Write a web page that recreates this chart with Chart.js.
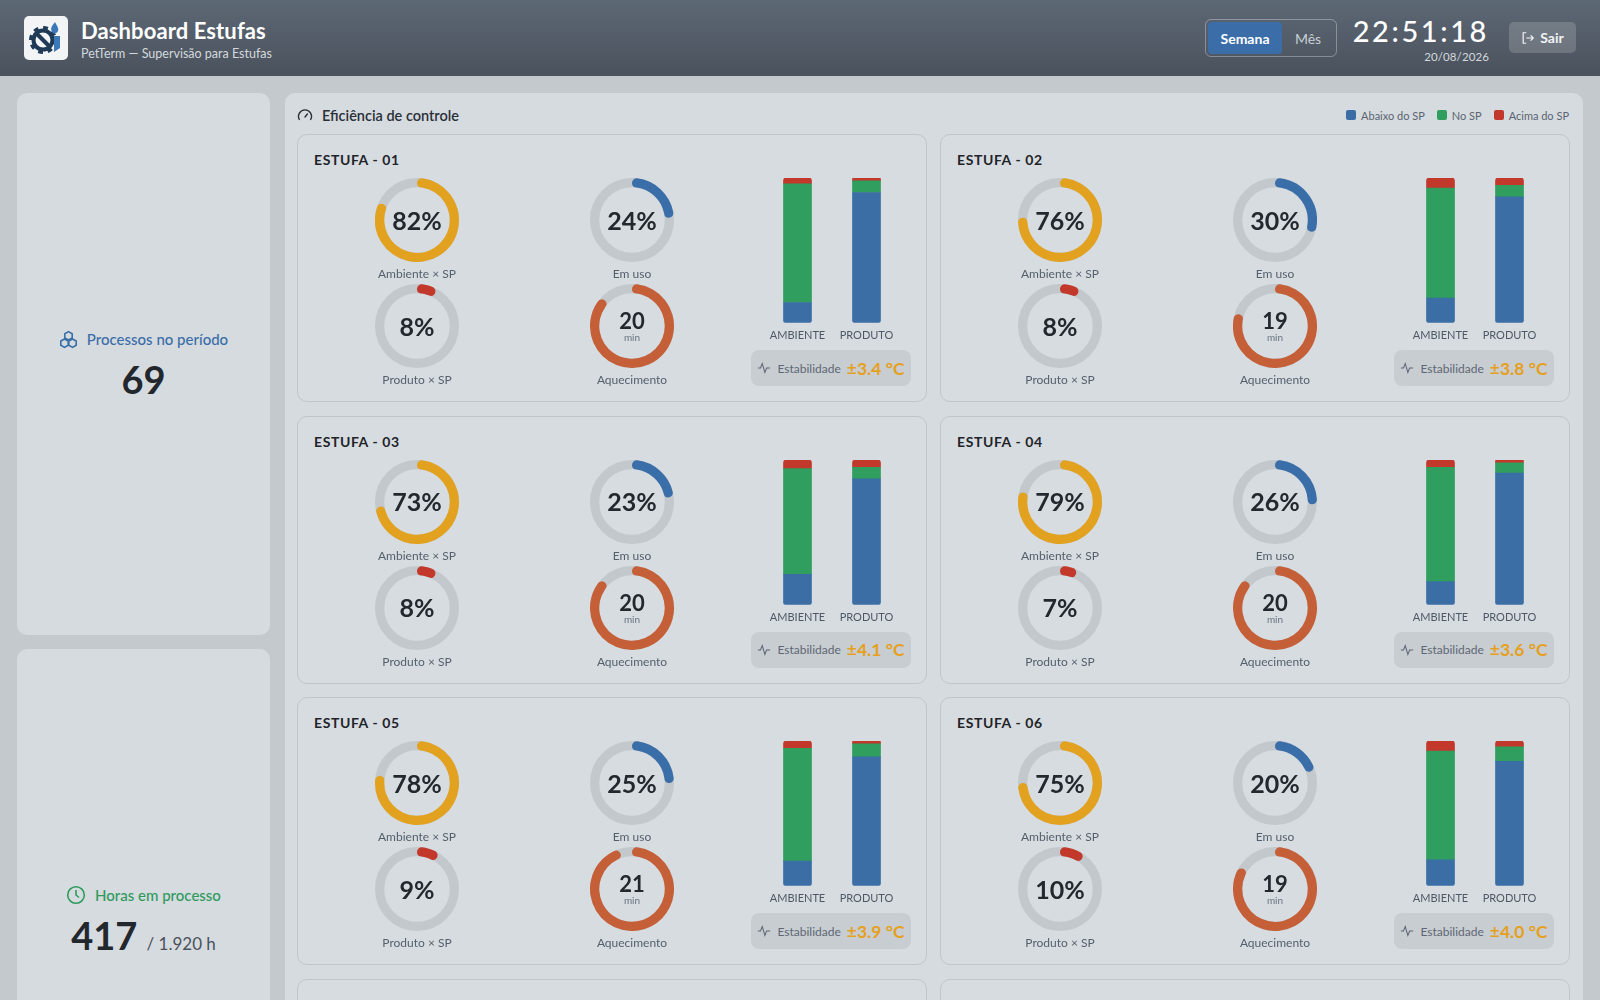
<!DOCTYPE html>
<html lang="pt-BR">
<head>
<meta charset="utf-8">
<title>Dashboard Estufas</title>
<script src="https://cdn.jsdelivr.net/npm/chart.js@4.4.1/dist/chart.umd.min.js"></script>
<style>
* { box-sizing: border-box; margin: 0; padding: 0; }
html, body { width: 1600px; height: 1000px; overflow: hidden; }
body { background: #c4c9ce; font-family: Lato, "Noto Sans", sans-serif; color: #22272d; }

header { position: relative; height: 76px; background: linear-gradient(#5d6875, #4a525c); color: #fff; }
.logo { position: absolute; left: 24px; top: 16px; width: 44px; height: 44px; background: #f2f4f6; border-radius: 5px; }
.brand { position: absolute; left: 81px; top: 19px; }
.brand h1 { font-size: 22px; font-weight: 700; line-height: 24px; letter-spacing: 0.1px; }
.brand p { font-size: 12.5px; color: #d3d8de; margin-top: 3px; line-height: 15px; }
.seg { position: absolute; left: 1205px; top: 19px; width: 132px; height: 38px; border: 1px solid rgba(255,255,255,0.32); border-radius: 6px; padding: 2px; display: flex; }
.seg span { height: 32px; display: flex; align-items: center; justify-content: center; font-size: 14px; border-radius: 4px; }
.seg .on { width: 74px; background: #3b6ea8; font-weight: 700; color: #fff; }
.seg .off { width: 52px; color: #c9cfd6; }
.clock { position: absolute; left: 1338px; top: 15px; width: 151px; text-align: right; }
.clock .t { font-size: 29px; line-height: 32px; letter-spacing: 2.6px; font-weight: 500; }
.clock .d { font-size: 11.5px; color: #d3d8de; margin-top: 3px; letter-spacing: 0.1px; }
.sair { position: absolute; left: 1509px; top: 22px; width: 67px; height: 31px; border-radius: 5px; background: rgba(255,255,255,0.17); display: flex; align-items: center; justify-content: center; gap: 5px; font-size: 14px; font-weight: 700; color: #f1f3f5; }

.wrap { display: flex; gap: 15px; padding: 17px 17px 0 17px; }
.side { width: 253px; display: flex; flex-direction: column; gap: 14px; }
.kpi { height: 542px; background: #d6dbdf; border-radius: 10px; display: flex; flex-direction: column; align-items: center; justify-content: center; }
.kpi.second { padding-top: 8px; }
.kpi .lbl { display: flex; align-items: center; gap: 9px; font-size: 15px; line-height: 20px; font-weight: 500; }
.kpi .num { font-size: 38px; font-weight: 700; line-height: 40px; margin-top: 10px; color: #22272d; }
.kpi .num small { font-size: 17px; font-weight: 400; color: #4a525c; }

.panel { width: 1298px; background: #d6dbdf; border-radius: 10px; padding: 0 14px 14px 12px; }
.phead { height: 41px; display: flex; align-items: center; justify-content: space-between; padding-top: 3px; }
.ptitle { display: flex; align-items: center; gap: 9px; font-size: 14.5px; font-weight: 600; color: #2a3038; }
.legend { display: flex; gap: 12px; font-size: 11px; color: #5a6470; }
.legend span { display: flex; align-items: center; gap: 5px; }
.legend i { width: 10px; height: 10px; border-radius: 2px; display: inline-block; }
.grid { display: grid; grid-template-columns: 630px 630px; column-gap: 13px; row-gap: 13.5px; }
.card { position: relative; height: 268px; border: 1px solid #c0c6cc; border-radius: 10px; background: #d7dce0; }
.card h3 { position: absolute; left: 16px; top: 16px; font-size: 14px; font-weight: 700; letter-spacing: 0.6px; line-height: 18px; color: #1f2429; }
.g { position: absolute; width: 84px; height: 84px; }
.g .c { position: absolute; inset: 0; display: flex; flex-direction: column; align-items: center; justify-content: center; pointer-events: none; }
.g .pct { font-size: 25px; font-weight: 700; color: #23282e; line-height: 1; }
.g .min { font-size: 22px; font-weight: 700; color: #23282e; line-height: 22px; margin-top: 1px; }
.g .u { font-size: 10px; color: #6b7480; line-height: 11px; }
.gl { position: absolute; width: 160px; text-align: center; font-size: 12px; line-height: 16px; color: #56606b; }
.bars { position: absolute; left: 465px; top: 43px; }
.estab { position: absolute; left: 453px; top: 215px; width: 160px; height: 36px; border-radius: 8px; background: #c8cdd2; display: flex; align-items: center; justify-content: center; gap: 6px; font-size: 12px; color: #5e6772; }
.estab b { font-size: 17.5px; color: #e6a020; font-weight: 700; }
</style>
</head>
<body>
<header>
  <div class="logo">
    <svg width="44" height="44" viewBox="0 0 44 44">
      <circle cx="19" cy="24" r="11" fill="none" stroke="#1f3a56" stroke-width="6" stroke-dasharray="4.3 4.3"/>
      <circle cx="19" cy="24" r="9.5" fill="none" stroke="#1f3a56" stroke-width="4"/>
      <path d="M14 19 L24 29" stroke="#1f3a56" stroke-width="4" stroke-linecap="round"/>
      <path d="M31 6 C28 10 26 12 28 16 C29 18 33 18 34 15 C35 12 33 10 31 6 Z" fill="#3a78b8"/>
      <path d="M30 20 L36 20 L36 32 L30 36 Z" fill="#3a78b8"/>
    </svg>
  </div>
  <div class="brand">
    <h1>Dashboard Estufas</h1>
    <p>PetTerm — Supervisão para Estufas</p>
  </div>
  <div class="seg"><span class="on">Semana</span><span class="off">Mês</span></div>
  <div class="clock"><div class="t">22:51:18</div><div class="d">20/08/2026</div></div>
  <div class="sair">
    <svg width="14" height="14" viewBox="0 0 16 16" fill="none" stroke="#f1f3f5" stroke-width="1.4"><path d="M6 2H2.5v12H6"/><path d="M6 8h8M11 5l3 3-3 3"/></svg>
    Sair
  </div>
</header>

<div class="wrap">
  <div class="side">
    <div class="kpi">
      <div class="lbl" style="color:#3a6ea8">
        <svg width="19" height="19" viewBox="0 0 18 18" fill="none" stroke="#3a6ea8" stroke-width="1.5">
          <path d="M9 1.5l3.5 2v4L9 9.5l-3.5-2v-4z"/><path d="M5.2 8.5l3.5 2v4l-3.5 2-3.5-2v-4z"/><path d="M12.8 8.5l3.5 2v4l-3.5 2-3.5-2v-4z"/>
        </svg>
        Processos no período
      </div>
      <div class="num" id="kpi-proc"></div>
    </div>
    <div class="kpi second">
      <div class="lbl" style="color:#2e9a5c">
        <svg width="20" height="20" viewBox="0 0 20 20" fill="none" stroke="#2e9a5c" stroke-width="1.6"><circle cx="10" cy="10" r="8.3"/><path d="M10 5v5l3 2.5"/></svg>
        Horas em processo
      </div>
      <div class="num" id="kpi-horas"></div>
    </div>
  </div>

  <div class="panel">
    <div class="phead">
      <div class="ptitle">
        <svg width="16" height="16" viewBox="0 0 16 16" fill="none" stroke="#2a3038" stroke-width="1.4" stroke-linecap="round"><path d="M2.3 12.5A6.5 6.5 0 1 1 13.7 12.5"/><path d="M8 10l2.4-3"/></svg>
        Eficiência de controle
      </div>
      <div class="legend" id="legend"></div>
    </div>
    <div class="grid" id="grid"></div>
  </div>
</div>

<script>
const estufas = ['ESTUFA - 01', 'ESTUFA - 02', 'ESTUFA - 03', 'ESTUFA - 04', 'ESTUFA - 05', 'ESTUFA - 06'];
const ambienteSP = [82, 76, 73, 79, 78, 75];
const emUso = [24, 30, 23, 26, 25, 20];
const produtoSP = [8, 8, 8, 7, 9, 10];
const aquecMin = [20, 19, 20, 20, 21, 19];
const aquecArc = [87, 80, 87, 87, 95, 84];
const ambAbaixo = [14, 17, 21, 16, 17, 18];
const ambAcima = [4, 7, 6, 5, 5, 7];
const prodAbaixo = [90, 87, 87, 91, 89, 86];
const prodAcima = [2, 5, 5, 2, 2, 4];
const estabilidade = [3.4, 3.8, 4.1, 3.6, 3.9, 4.0];
const barLabels = ['AMBIENTE', 'PRODUTO'];
const faixas = ['Abaixo do SP', 'No SP', 'Acima do SP'];
const processos = 69;
const horas = 417;
const horasMax = '1.920';

const cores = { amb: '#e2a21f', uso: '#3a6ea8', prod: '#c2392b', aq: '#c55f37', track: '#c3c8cd' };
const coresFaixa = ['#3a6ea5', '#2f9e5f', '#c2392b'];

Chart.defaults.font.family = 'Lato, "Noto Sans", sans-serif';

const trackPlugin = {
  id: 'track',
  beforeDatasetsDraw(chart) {
    const arc = chart.getDatasetMeta(0).data[0];
    if (!arc) return;
    const { x, y, innerRadius, outerRadius } = arc.getProps(['x', 'y', 'innerRadius', 'outerRadius'], true);
    const ctx = chart.ctx;
    ctx.save();
    ctx.beginPath();
    ctx.arc(x, y, (innerRadius + outerRadius) / 2, 0, Math.PI * 2);
    ctx.lineWidth = outerRadius - innerRadius;
    ctx.strokeStyle = cores.track;
    ctx.stroke();
    ctx.restore();
  }
};

function gauge(canvas, value, color) {
  new Chart(canvas, {
    type: 'doughnut',
    data: { datasets: [{
      data: [value, 100 - value],
      backgroundColor: [color, 'rgba(0,0,0,0)'],
      borderWidth: 0,
      borderRadius: c => c.dataIndex === 0 ? 8 : 0
    }] },
    options: {
      responsive: false, animation: false, events: [], cutout: '78%',
      plugins: { legend: { display: false }, tooltip: { enabled: false } }
    },
    plugins: [trackPlugin]
  });
}

function barras(canvas, i) {
  const vals = [
    [ambAbaixo[i], prodAbaixo[i]],
    [ambienteSP[i], produtoSP[i]],
    [ambAcima[i], prodAcima[i]]
  ];
  const radii = [
    { topLeft: 0, topRight: 0, bottomLeft: 3, bottomRight: 3 },
    0,
    { topLeft: 3, topRight: 3, bottomLeft: 0, bottomRight: 0 }
  ];
  new Chart(canvas, {
    type: 'bar',
    data: {
      labels: barLabels,
      datasets: faixas.map((f, k) => ({
        label: f, data: vals[k], backgroundColor: coresFaixa[k],
        borderRadius: radii[k], borderSkipped: false, barThickness: 28
      }))
    },
    options: {
      responsive: false, animation: false, events: [],
      layout: { padding: 0 },
      scales: {
        x: { stacked: true, grid: { display: false, drawTicks: false }, border: { display: false },
             ticks: { color: '#4f5863', padding: 6, font: { size: 11 } } },
        y: { stacked: true, display: false, min: 0, max: 100 }
      },
      plugins: { legend: { display: false }, tooltip: { enabled: false } }
    }
  });
}

document.getElementById('kpi-proc').textContent = processos;
document.getElementById('kpi-horas').innerHTML = `${horas} <small>/ ${horasMax} h</small>`;
document.getElementById('legend').innerHTML = faixas.map((f, k) =>
  `<span><i style="background:${coresFaixa[k]}"></i>${f}</span>`).join('');

const grid = document.getElementById('grid');
// posições dos 4 medidores dentro do card (centro x, centro y)
const slots = [
  { key: 'amb', x: 120, y: 86, lbl: 'Ambiente × SP' },
  { key: 'uso', x: 335, y: 86, lbl: 'Em uso' },
  { key: 'prod', x: 120, y: 192, lbl: 'Produto × SP' },
  { key: 'aq', x: 335, y: 192, lbl: 'Aquecimento' }
];

estufas.forEach((nome, i) => {
  const card = document.createElement('div');
  card.className = 'card';
  const centro = {
    amb: `<span class="pct">${ambienteSP[i]}%</span>`,
    uso: `<span class="pct">${emUso[i]}%</span>`,
    prod: `<span class="pct">${produtoSP[i]}%</span>`,
    aq: `<span class="min">${aquecMin[i]}</span><span class="u">min</span>`
  };
  card.innerHTML = `<h3>${nome}</h3>` +
    slots.map(s => `
      <div class="g" style="left:${s.x - 43}px;top:${s.y - 43}px"><canvas width="84" height="84" data-k="${s.key}"></canvas><div class="c">${centro[s.key]}</div></div>
      <div class="gl" style="left:${s.x - 81}px;top:${s.y + 45}px">${s.lbl}</div>`).join('') +
    `<canvas class="bars" width="138" height="170"></canvas>
     <div class="estab">
       <svg width="14" height="14" viewBox="0 0 16 16" fill="none" stroke="#5e6772" stroke-width="1.2"><path d="M1 8h3l2-5 3 10 2-5h4"/></svg>
       Estabilidade <b>±${estabilidade[i].toFixed(1)} °C</b>
     </div>`;
  grid.appendChild(card);

  const gv = { amb: ambienteSP[i], uso: emUso[i], prod: produtoSP[i], aq: aquecArc[i] };
  card.querySelectorAll('canvas[data-k]').forEach(cv => gauge(cv, gv[cv.dataset.k], cores[cv.dataset.k]));
  barras(card.querySelector('canvas.bars'), i);
});

// linha seguinte (fora da área visível)
for (let k = 0; k < 2; k++) {
  const card = document.createElement('div');
  card.className = 'card';
  grid.appendChild(card);
}
</script>
</body>
</html>
